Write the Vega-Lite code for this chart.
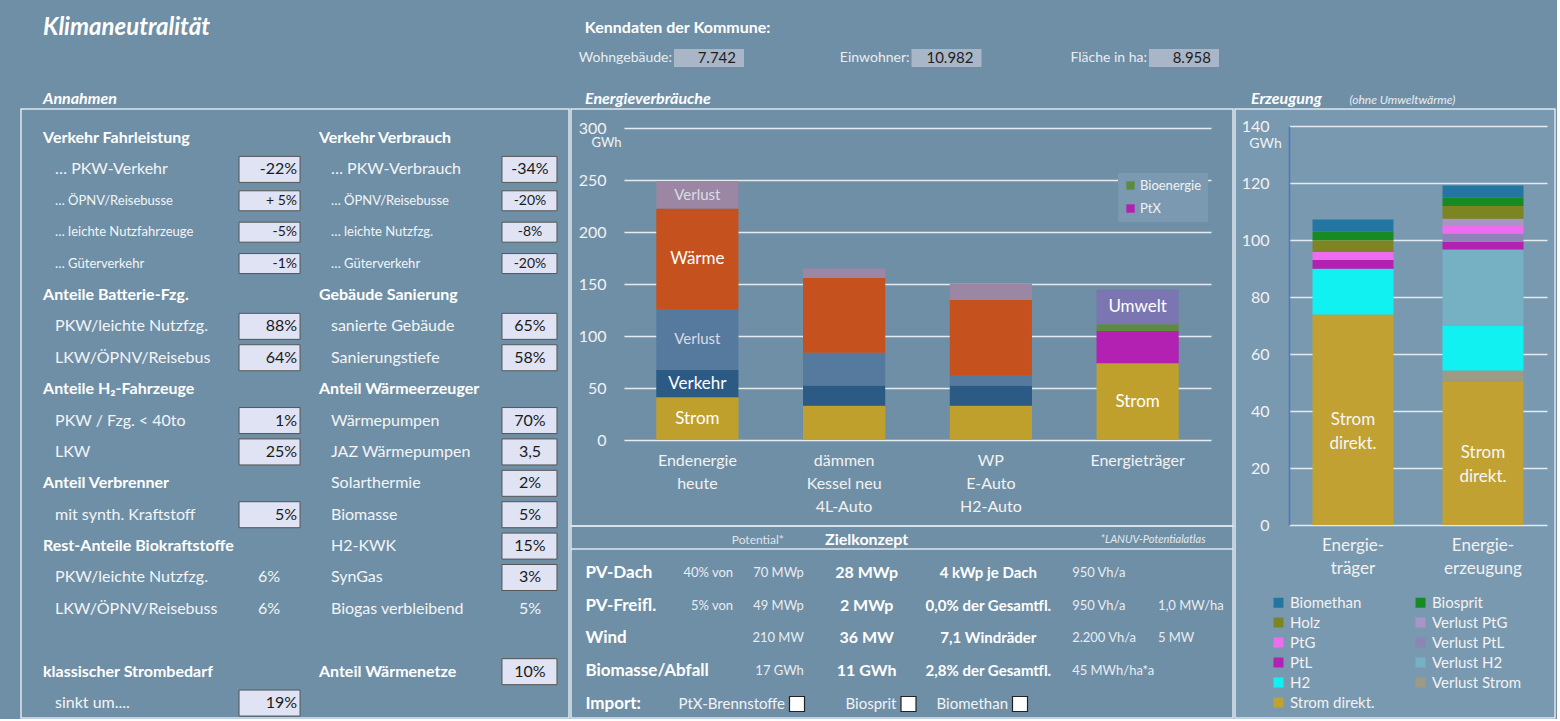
{
  "$schema": "https://vega.github.io/schema/vega-lite/v6.json",
  "background": "#6f8fa6",
  "padding": {"top": 16, "left": 20, "right": 0, "bottom": 0},
  "spacing": 18,
  "config": {
    "font": "Lato",
    "view": {"stroke": "#dfe7ee", "strokeWidth": 1.5},
    "title": {"color": "#ffffff", "font": "Lato", "fontStyle": "italic", "fontWeight": "bold", "anchor": "start", "fontSize": 16},
    "axis": {"labelFont": "Lato", "labelColor": "#f2f2f2", "domain": false, "ticks": false, "grid": false},
    "legend": {"labelFont": "Lato", "labelColor": "#f2f2f2"},
    "text": {"font": "Lato", "baseline": "middle"}
  },
  "vconcat": [
    {
      "spacing": 0,
      "bounds": "flush",
      "hconcat": [
        {
          "width": 565, "height": 28,
          "view": {"stroke": null},
          "title": {"text": "Klimaneutralität", "fontSize": 24, "dx": 22, "offset": 4},
          "data": {"values": []},
          "mark": "text",
          "encoding": {}
        },
        {
          "width": 971, "height": 28,
          "view": {"stroke": null},
          "title": {"text": "Kenndaten der Kommune:", "fontSize": 16, "fontStyle": "normal", "dx": 6, "offset": 8},
          "data": {"values": [
            {"item": "Wohngebäude:", "value": "7.742"},
            {"item": "Einwohner:", "value": "10.982"},
            {"item": "Fläche in ha:", "value": "8.958"}
          ]},
          "encoding": {
            "x": {"field": "item", "type": "nominal", "axis": null, "sort": null,
                  "scale": {"type": "point", "domain": ["Wohngebäude:", "Einwohner:", "Fläche in ha:"], "range": [90, 565], "padding": 0}}
          },
          "layer": [
            {"mark": {"type": "point", "shape": "M-7,-1.8H7V1.8H-7Z", "size": 100, "filled": true, "fill": "#a9b6c8", "opacity": 1, "xOffset": 33}},
            {"mark": {"type": "text", "align": "right", "dx": -4, "fontSize": 14, "color": "#e9edf1"}, "encoding": {"text": {"field": "item"}}},
            {"mark": {"type": "text", "align": "right", "dx": 60, "fontSize": 15, "color": "#1e1e1e"}, "encoding": {"text": {"field": "value"}}}
          ]
        }
      ]
    },
    {
      "spacing": -1,
      "resolve": {"scale": {"color": "independent"}, "legend": {"color": "independent"}},
      "hconcat": [
        {
          "width": 548, "height": 609,
          "title": {"text": "Annahmen", "dx": 22, "offset": 2},
          "data": {"values": [
            {"row": "r01", "side": "L", "kind": "heading", "label": "Verkehr Fahrleistung"},
            {"row": "r01", "side": "R", "kind": "heading", "label": "Verkehr Verbrauch"},
            {"row": "r02", "side": "L", "kind": "item", "label": "… PKW-Verkehr", "value": "-22%", "input": true},
            {"row": "r02", "side": "R", "kind": "item", "label": "… PKW-Verbrauch", "value": "-34%", "input": true},
            {"row": "r03", "side": "L", "kind": "item", "label": "… ÖPNV/Reisebusse", "value": "+ 5%", "input": true},
            {"row": "r03", "side": "R", "kind": "item", "label": "… ÖPNV/Reisebusse", "value": "-20%", "input": true},
            {"row": "r04", "side": "L", "kind": "item", "label": "… leichte Nutzfahrzeuge", "value": "-5%", "input": true},
            {"row": "r04", "side": "R", "kind": "item", "label": "… leichte Nutzfzg.", "value": "-8%", "input": true},
            {"row": "r05", "side": "L", "kind": "item", "label": "… Güterverkehr", "value": "-1%", "input": true},
            {"row": "r05", "side": "R", "kind": "item", "label": "… Güterverkehr", "value": "-20%", "input": true},
            {"row": "r06", "side": "L", "kind": "heading", "label": "Anteile Batterie-Fzg."},
            {"row": "r06", "side": "R", "kind": "heading", "label": "Gebäude Sanierung"},
            {"row": "r07", "side": "L", "kind": "item", "label": "PKW/leichte Nutzfzg.", "value": "88%", "input": true},
            {"row": "r07", "side": "R", "kind": "item", "label": "sanierte Gebäude", "value": "65%", "input": true},
            {"row": "r08", "side": "L", "kind": "item", "label": "LKW/ÖPNV/Reisebus", "value": "64%", "input": true},
            {"row": "r08", "side": "R", "kind": "item", "label": "Sanierungstiefe", "value": "58%", "input": true},
            {"row": "r09", "side": "L", "kind": "heading", "label": "Anteile H₂-Fahrzeuge"},
            {"row": "r09", "side": "R", "kind": "heading", "label": "Anteil Wärmeerzeuger"},
            {"row": "r10", "side": "L", "kind": "item", "label": "PKW / Fzg. < 40to", "value": "1%", "input": true},
            {"row": "r10", "side": "R", "kind": "item", "label": "Wärmepumpen", "value": "70%", "input": true},
            {"row": "r11", "side": "L", "kind": "item", "label": "LKW", "value": "25%", "input": true},
            {"row": "r11", "side": "R", "kind": "item", "label": "JAZ Wärmepumpen", "value": "3,5", "input": true},
            {"row": "r12", "side": "L", "kind": "heading", "label": "Anteil Verbrenner"},
            {"row": "r12", "side": "R", "kind": "item", "label": "Solarthermie", "value": "2%", "input": true},
            {"row": "r13", "side": "L", "kind": "item", "label": "mit synth. Kraftstoff", "value": "5%", "input": true},
            {"row": "r13", "side": "R", "kind": "item", "label": "Biomasse", "value": "5%", "input": true},
            {"row": "r14", "side": "L", "kind": "heading", "label": "Rest-Anteile Biokraftstoffe"},
            {"row": "r14", "side": "R", "kind": "item", "label": "H2-KWK", "value": "15%", "input": true},
            {"row": "r15", "side": "L", "kind": "item", "label": "PKW/leichte Nutzfzg.", "value": "6%", "input": false},
            {"row": "r15", "side": "R", "kind": "item", "label": "SynGas", "value": "3%", "input": true},
            {"row": "r16", "side": "L", "kind": "item", "label": "LKW/ÖPNV/Reisebuss", "value": "6%", "input": false},
            {"row": "r16", "side": "R", "kind": "item", "label": "Biogas verbleibend", "value": "5%", "input": false},
            {"row": "r17", "side": "L", "kind": "heading", "label": "klassischer Strombedarf"},
            {"row": "r17", "side": "R", "kind": "heading", "label": "Anteil Wärmenetze", "value": "10%", "input": true},
            {"row": "r18", "side": "L", "kind": "item", "label": "sinkt um....", "value": "19%", "input": true}
          ]},
          "encoding": {
            "x": {"field": "side", "type": "nominal", "axis": null,
                  "scale": {"type": "point", "domain": ["L", "R"], "padding": 0.493, "align": 0.081}},
            "y": {"field": "row", "type": "nominal", "axis": null,
                  "scale": {"type": "point", "domain": ["r01","r02","r03","r04","r05","r06","r07","r08","r09","r10","r11","r12","r13","r14","r15","r16","gap","r17","r18"], "padding": 0.7, "align": 0.66}}
          },
          "layer": [
            {
              "transform": [{"filter": "datum.kind == 'heading'"}],
              "mark": {"type": "text", "align": "left", "fontSize": 16, "fontWeight": "bold", "color": "#ffffff"},
              "encoding": {"text": {"field": "label"}}
            },
            {
              "transform": [{"filter": "datum.kind == 'item'"}],
              "mark": {"type": "text", "align": "left", "dx": 12, "color": "#f3f5f7"},
              "encoding": {
                "text": {"field": "label"},
                "size": {"condition": {"test": "indexof(['r03','r04','r05'], datum.row) >= 0", "value": 13}, "value": 16}
              }
            },
            {
              "transform": [{"filter": "datum.side == 'L' && datum.input"}],
              "mark": {"type": "point", "filled": true, "fill": "#dfe3f4", "stroke": "#555555", "strokeWidth": 1, "opacity": 1, "size": 100, "xOffset": 226.5},
              "encoding": {
                "shape": {"condition": {"test": "indexof(['r03','r04','r05'], datum.row) >= 0", "value": "M-6.1,-2H6.1V2H-6.1Z"}, "value": "M-6.1,-2.6H6.1V2.6H-6.1Z"}
              }
            },
            {
              "transform": [{"filter": "datum.side == 'R' && datum.input"}],
              "mark": {"type": "point", "filled": true, "fill": "#dfe3f4", "stroke": "#555555", "strokeWidth": 1, "opacity": 1, "size": 100, "xOffset": 210.5},
              "encoding": {
                "shape": {"condition": {"test": "indexof(['r03','r04','r05'], datum.row) >= 0", "value": "M-5.5,-2H5.5V2H-5.5Z"}, "value": "M-5.5,-2.6H5.5V2.6H-5.5Z"}
              }
            },
            {
              "transform": [{"filter": "datum.side == 'L' && datum.input"}],
              "mark": {"type": "text", "align": "right", "dx": 254, "color": "#1a1a1a"},
              "encoding": {
                "text": {"field": "value"},
                "size": {"condition": {"test": "indexof(['r03','r04','r05'], datum.row) >= 0", "value": 14}, "value": 16}
              }
            },
            {
              "transform": [{"filter": "datum.side == 'L' && isValid(datum.value) && !datum.input"}],
              "mark": {"type": "text", "align": "center", "dx": 226, "fontSize": 16, "color": "#f3f5f7"},
              "encoding": {"text": {"field": "value"}}
            },
            {
              "transform": [{"filter": "datum.side == 'R' && isValid(datum.value)"}],
              "mark": {"type": "text", "align": "center", "dx": 211},
              "encoding": {
                "text": {"field": "value"},
                "color": {"condition": {"test": "datum.input", "value": "#1a1a1a"}, "value": "#f3f5f7"},
                "size": {"condition": {"test": "indexof(['r03','r04','r05'], datum.row) >= 0", "value": 14}, "value": 16}
              }
            }
          ]
        },
        {
          "spacing": 0,
          "bounds": "flush",
          "vconcat": [
            {
              "width": 662, "height": 417,
              "title": {"text": "Energieverbräuche", "dx": 14, "offset": 2},
              "data": {"values": [
                {"scenario": "Endenergie|heute", "category": "Strom", "value": 41.2, "rank": 1, "label": "Strom"},
                {"scenario": "Endenergie|heute", "category": "Verkehr", "value": 26.2, "rank": 2, "label": "Verkehr"},
                {"scenario": "Endenergie|heute", "category": "Verlust Verkehr", "value": 58.6, "rank": 3, "label": "Verlust"},
                {"scenario": "Endenergie|heute", "category": "Wärme", "value": 96.7, "rank": 4, "label": "Wärme"},
                {"scenario": "Endenergie|heute", "category": "Verlust Wärme", "value": 26.3, "rank": 5, "label": "Verlust"},
                {"scenario": "dämmen|Kessel neu|4L-Auto", "category": "Strom", "value": 32.9, "rank": 1, "label": ""},
                {"scenario": "dämmen|Kessel neu|4L-Auto", "category": "Verkehr", "value": 19.6, "rank": 2, "label": ""},
                {"scenario": "dämmen|Kessel neu|4L-Auto", "category": "Verlust Verkehr", "value": 31.3, "rank": 3, "label": ""},
                {"scenario": "dämmen|Kessel neu|4L-Auto", "category": "Wärme", "value": 71.9, "rank": 4, "label": ""},
                {"scenario": "dämmen|Kessel neu|4L-Auto", "category": "Verlust Wärme", "value": 9.3, "rank": 5, "label": ""},
                {"scenario": "WP|E-Auto|H2-Auto", "category": "Strom", "value": 32.9, "rank": 1, "label": ""},
                {"scenario": "WP|E-Auto|H2-Auto", "category": "Verkehr", "value": 19.6, "rank": 2, "label": ""},
                {"scenario": "WP|E-Auto|H2-Auto", "category": "Verlust Verkehr", "value": 10.0, "rank": 3, "label": ""},
                {"scenario": "WP|E-Auto|H2-Auto", "category": "Wärme", "value": 72.2, "rank": 4, "label": ""},
                {"scenario": "WP|E-Auto|H2-Auto", "category": "Verlust Wärme", "value": 15.8, "rank": 5, "label": ""},
                {"scenario": "Energieträger", "category": "Strom", "value": 73.8, "rank": 1, "label": "Strom"},
                {"scenario": "Energieträger", "category": "PtX", "value": 30.9, "rank": 2, "label": ""},
                {"scenario": "Energieträger", "category": "Bioenergie", "value": 6.5, "rank": 3, "label": ""},
                {"scenario": "Energieträger", "category": "Umwelt", "value": 33.5, "rank": 4, "label": "Umwelt"}
              ]},
              "layer": [
                {
                  "mark": {"type": "bar"},
                  "encoding": {
                    "x": {"field": "scenario", "type": "nominal", "sort": null,
                          "scale": {"domain": ["Endenergie|heute", "dämmen|Kessel neu|4L-Auto", "WP|E-Auto|H2-Auto", "Energieträger"], "range": [53, 640], "paddingInner": 0.44, "paddingOuter": 0.22},
                          "axis": {"orient": "bottom", "offset": -86, "labelExpr": "split(datum.label, '|')", "labelAngle": 0, "labelFontSize": 16, "labelLineHeight": 23, "labelPadding": 12, "labelBaseline": "top", "title": null}},
                    "y": {"field": "value", "type": "quantitative", "stack": "zero",
                          "scale": {"domain": [0, 300], "range": [331, 19], "nice": false, "zero": false},
                          "axis": {"offset": -37, "values": [0, 50, 100, 150, 200, 250, 300], "grid": true, "gridColor": "#e3eaf0", "gridWidth": 1.5, "labelPadding": 2, "labelFontSize": 16,
                                   "title": "GWh", "titleAngle": 0, "titleX": -2, "titleY": 33, "titleAlign": "center", "titleBaseline": "middle", "titleFontSize": 13, "titleFontWeight": "normal", "titleColor": "#f2f2f2", "titleFont": "Lato"}},
                    "order": {"field": "rank", "type": "quantitative"},
                    "color": {"field": "category", "type": "nominal",
                              "scale": {"domain": ["Strom", "Verkehr", "Verlust Verkehr", "Wärme", "Verlust Wärme", "PtX", "Bioenergie", "Umwelt"],
                                        "range": ["#c0a02c", "#2b5a84", "#56799e", "#c5511e", "#9b87a3", "#b321b3", "#5c8b40", "#7b76b1"]},
                              "legend": {"values": ["Bioenergie", "PtX"], "orient": "none", "legendX": 547, "legendY": 64, "title": null, "fillColor": "#7b9ab2", "padding": 6, "symbolType": "square", "symbolSize": 70, "symbolStrokeWidth": 0, "labelFontSize": 13, "rowPadding": 9, "labelOffset": 3}}
                  }
                },
                {
                  "mark": {"type": "text"},
                  "encoding": {
                    "x": {"field": "scenario", "type": "nominal", "sort": null,
                          "scale": {"domain": ["Endenergie|heute", "dämmen|Kessel neu|4L-Auto", "WP|E-Auto|H2-Auto", "Energieträger"], "range": [53, 640], "paddingInner": 0.44, "paddingOuter": 0.22},
                          "axis": {"orient": "bottom", "offset": -86, "labelExpr": "split(datum.label, '|')", "labelAngle": 0, "labelFontSize": 16, "labelLineHeight": 23, "labelPadding": 12, "labelBaseline": "top", "title": null}},
                    "y": {"field": "value", "type": "quantitative", "stack": "zero", "bandPosition": 0.5,
                          "scale": {"domain": [0, 300], "range": [331, 19], "nice": false, "zero": false},
                          "axis": {"offset": -37, "values": [0, 50, 100, 150, 200, 250, 300], "grid": true, "gridColor": "#e3eaf0", "gridWidth": 1.5, "labelPadding": 2, "labelFontSize": 16,
                                   "title": "GWh", "titleAngle": 0, "titleX": -2, "titleY": 33, "titleAlign": "center", "titleBaseline": "middle", "titleFontSize": 13, "titleFontWeight": "normal", "titleColor": "#f2f2f2", "titleFont": "Lato"}},
                    "order": {"field": "rank", "type": "quantitative"},
                    "detail": {"field": "category", "type": "nominal"},
                    "text": {"field": "label"},
                    "color": {"condition": {"test": "datum.label == 'Verlust'", "value": "#d9dde5"}, "value": "#ffffff"},
                    "size": {"condition": {"test": "datum.label == 'Verlust'", "value": 15}, "value": 17}
                  }
                }
              ]
            },
            {
              "width": 662, "height": 192,
              "data": {"values": [
                {"row": "hdr", "col": "Potential", "text": "Potential*"},
                {"row": "hdr", "col": "Ziel", "text": "Zielkonzept"},
                {"row": "hdr", "col": "Quelle", "text": "*LANUV-Potentialatlas"},
                {"row": "PV-Dach", "col": "Name", "text": "PV-Dach"},
                {"row": "PV-Dach", "col": "Anteil", "text": "40% von"},
                {"row": "PV-Dach", "col": "Potential", "text": "70 MWp"},
                {"row": "PV-Dach", "col": "Ziel", "text": "28 MWp"},
                {"row": "PV-Dach", "col": "Einheit", "text": "4 kWp je Dach"},
                {"row": "PV-Dach", "col": "Volllast", "text": "950 Vh/a"},
                {"row": "PV-Freifl.", "col": "Name", "text": "PV-Freifl."},
                {"row": "PV-Freifl.", "col": "Anteil", "text": "5% von"},
                {"row": "PV-Freifl.", "col": "Potential", "text": "49 MWp"},
                {"row": "PV-Freifl.", "col": "Ziel", "text": "2 MWp"},
                {"row": "PV-Freifl.", "col": "Einheit", "text": "0,0% der Gesamtfl."},
                {"row": "PV-Freifl.", "col": "Volllast", "text": "950 Vh/a"},
                {"row": "PV-Freifl.", "col": "Leistung", "text": "1,0 MW/ha"},
                {"row": "Wind", "col": "Name", "text": "Wind"},
                {"row": "Wind", "col": "Potential", "text": "210 MW"},
                {"row": "Wind", "col": "Ziel", "text": "36 MW"},
                {"row": "Wind", "col": "Einheit", "text": "7,1 Windräder"},
                {"row": "Wind", "col": "Volllast", "text": "2.200 Vh/a"},
                {"row": "Wind", "col": "Leistung", "text": "5 MW"},
                {"row": "Biomasse/Abfall", "col": "Name", "text": "Biomasse/Abfall"},
                {"row": "Biomasse/Abfall", "col": "Potential", "text": "17 GWh"},
                {"row": "Biomasse/Abfall", "col": "Ziel", "text": "11 GWh"},
                {"row": "Biomasse/Abfall", "col": "Einheit", "text": "2,8% der Gesamtfl."},
                {"row": "Biomasse/Abfall", "col": "Volllast", "text": "45 MWh/ha*a"},
                {"row": "Import", "col": "Name", "text": "Import:"},
                {"row": "Import", "col": "Option", "text": "PtX-Brennstoffe", "selected": false},
                {"row": "Import", "col": "Option", "text": "Biosprit", "selected": false},
                {"row": "Import", "col": "Option", "text": "Biomethan", "selected": false}
              ]},
              "resolve": {"scale": {"x": "independent"}},
              "layer": [
                {
                  "data": {"values": [{"row": "hdr"}]},
                  "mark": {"type": "rule", "color": "#dfe7ee", "strokeWidth": 1.5, "yOffset": 9},
                  "encoding": {
                    "y": {"field": "row", "type": "nominal", "axis": null, "scale": {"type": "point", "domain": ["hdr", "PV-Dach", "PV-Freifl.", "Wind", "Biomasse/Abfall", "Import"], "padding": 0.427}}
                  }
                },
                {
                  "transform": [{"filter": "datum.col == 'Name'"}],
                  "mark": {"type": "text", "align": "left", "dx": -27, "fontSize": 17, "fontWeight": "bold", "color": "#ffffff"},
                  "encoding": {
                    "x": {"field": "col", "type": "nominal", "axis": null, "scale": {"type": "point", "domain": ["Name", "Anteil", "Potential", "Ziel", "Einheit", "Volllast", "Leistung", "Quelle"], "padding": 0.5}},
                    "y": {"field": "row", "type": "nominal", "axis": null, "scale": {"type": "point", "domain": ["hdr", "PV-Dach", "PV-Freifl.", "Wind", "Biomasse/Abfall", "Import"], "padding": 0.427}},
                    "text": {"field": "text"}
                  }
                },
                {
                  "transform": [{"filter": "datum.col == 'Anteil'"}],
                  "mark": {"type": "text", "align": "right", "dx": 38, "fontSize": 13, "color": "#e8edf2"},
                  "encoding": {
                    "x": {"field": "col", "type": "nominal", "axis": null, "scale": {"type": "point", "domain": ["Name", "Anteil", "Potential", "Ziel", "Einheit", "Volllast", "Leistung", "Quelle"], "padding": 0.5}},
                    "y": {"field": "row", "type": "nominal", "axis": null, "scale": {"type": "point", "domain": ["hdr", "PV-Dach", "PV-Freifl.", "Wind", "Biomasse/Abfall", "Import"], "padding": 0.427}},
                    "text": {"field": "text"}
                  }
                },
                {
                  "transform": [{"filter": "datum.col == 'Potential' && datum.row != 'hdr'"}],
                  "mark": {"type": "text", "align": "right", "dx": 26, "fontSize": 13, "color": "#e8edf2"},
                  "encoding": {
                    "x": {"field": "col", "type": "nominal", "axis": null, "scale": {"type": "point", "domain": ["Name", "Anteil", "Potential", "Ziel", "Einheit", "Volllast", "Leistung", "Quelle"], "padding": 0.5}},
                    "y": {"field": "row", "type": "nominal", "axis": null, "scale": {"type": "point", "domain": ["hdr", "PV-Dach", "PV-Freifl.", "Wind", "Biomasse/Abfall", "Import"], "padding": 0.427}},
                    "text": {"field": "text"}
                  }
                },
                {
                  "transform": [{"filter": "datum.col == 'Potential' && datum.row == 'hdr'"}],
                  "mark": {"type": "text", "align": "right", "dx": 6, "fontSize": 12, "color": "#dfe5ea"},
                  "encoding": {
                    "x": {"field": "col", "type": "nominal", "axis": null, "scale": {"type": "point", "domain": ["Name", "Anteil", "Potential", "Ziel", "Einheit", "Volllast", "Leistung", "Quelle"], "padding": 0.5}},
                    "y": {"field": "row", "type": "nominal", "axis": null, "scale": {"type": "point", "domain": ["hdr", "PV-Dach", "PV-Freifl.", "Wind", "Biomasse/Abfall", "Import"], "padding": 0.427}},
                    "text": {"field": "text"}
                  }
                },
                {
                  "transform": [{"filter": "datum.col == 'Ziel'"}],
                  "mark": {"type": "text", "align": "center", "dx": 6, "fontSize": 16, "fontWeight": "bold", "color": "#ffffff"},
                  "encoding": {
                    "x": {"field": "col", "type": "nominal", "axis": null, "scale": {"type": "point", "domain": ["Name", "Anteil", "Potential", "Ziel", "Einheit", "Volllast", "Leistung", "Quelle"], "padding": 0.5}},
                    "y": {"field": "row", "type": "nominal", "axis": null, "scale": {"type": "point", "domain": ["hdr", "PV-Dach", "PV-Freifl.", "Wind", "Biomasse/Abfall", "Import"], "padding": 0.427}},
                    "text": {"field": "text"}
                  }
                },
                {
                  "transform": [{"filter": "datum.col == 'Einheit'"}],
                  "mark": {"type": "text", "align": "center", "dx": 45, "fontSize": 15, "fontWeight": "bold", "color": "#ffffff"},
                  "encoding": {
                    "x": {"field": "col", "type": "nominal", "axis": null, "scale": {"type": "point", "domain": ["Name", "Anteil", "Potential", "Ziel", "Einheit", "Volllast", "Leistung", "Quelle"], "padding": 0.5}},
                    "y": {"field": "row", "type": "nominal", "axis": null, "scale": {"type": "point", "domain": ["hdr", "PV-Dach", "PV-Freifl.", "Wind", "Biomasse/Abfall", "Import"], "padding": 0.427}},
                    "text": {"field": "text"}
                  }
                },
                {
                  "transform": [{"filter": "datum.col == 'Volllast'"}],
                  "mark": {"type": "text", "align": "left", "dx": 46, "fontSize": 13, "color": "#e8edf2"},
                  "encoding": {
                    "x": {"field": "col", "type": "nominal", "axis": null, "scale": {"type": "point", "domain": ["Name", "Anteil", "Potential", "Ziel", "Einheit", "Volllast", "Leistung", "Quelle"], "padding": 0.5}},
                    "y": {"field": "row", "type": "nominal", "axis": null, "scale": {"type": "point", "domain": ["hdr", "PV-Dach", "PV-Freifl.", "Wind", "Biomasse/Abfall", "Import"], "padding": 0.427}},
                    "text": {"field": "text"}
                  }
                },
                {
                  "transform": [{"filter": "datum.col == 'Leistung'"}],
                  "mark": {"type": "text", "align": "left", "dx": 49, "fontSize": 13, "color": "#e8edf2"},
                  "encoding": {
                    "x": {"field": "col", "type": "nominal", "axis": null, "scale": {"type": "point", "domain": ["Name", "Anteil", "Potential", "Ziel", "Einheit", "Volllast", "Leistung", "Quelle"], "padding": 0.5}},
                    "y": {"field": "row", "type": "nominal", "axis": null, "scale": {"type": "point", "domain": ["hdr", "PV-Dach", "PV-Freifl.", "Wind", "Biomasse/Abfall", "Import"], "padding": 0.427}},
                    "text": {"field": "text"}
                  }
                },
                {
                  "transform": [{"filter": "datum.col == 'Quelle'"}],
                  "mark": {"type": "text", "align": "right", "dx": 14, "fontSize": 11, "fontStyle": "italic", "color": "#e3e8ee"},
                  "encoding": {
                    "x": {"field": "col", "type": "nominal", "axis": null, "scale": {"type": "point", "domain": ["Name", "Anteil", "Potential", "Ziel", "Einheit", "Volllast", "Leistung", "Quelle"], "padding": 0.5}},
                    "y": {"field": "row", "type": "nominal", "axis": null, "scale": {"type": "point", "domain": ["hdr", "PV-Dach", "PV-Freifl.", "Wind", "Biomasse/Abfall", "Import"], "padding": 0.427}},
                    "text": {"field": "text"}
                  }
                },
                {
                  "transform": [{"filter": "datum.col == 'Option'"}],
                  "mark": {"type": "text", "align": "right", "dx": -12, "fontSize": 15, "color": "#f0f3f6"},
                  "encoding": {
                    "x": {"field": "text", "type": "nominal", "axis": null, "scale": {"type": "point", "domain": ["PtX-Brennstoffe", "Biosprit", "Biomethan"], "range": [226, 449], "padding": 0}},
                    "y": {"field": "row", "type": "nominal", "axis": null, "scale": {"type": "point", "domain": ["hdr", "PV-Dach", "PV-Freifl.", "Wind", "Biomasse/Abfall", "Import"], "padding": 0.427}},
                    "text": {"field": "text"}
                  }
                },
                {
                  "transform": [{"filter": "datum.col == 'Option'"}],
                  "mark": {"type": "point", "shape": "M-1,-1H1V1H-1Z", "size": 225, "filled": true, "fill": "#ffffff", "stroke": "#222222", "strokeWidth": 1.2, "opacity": 1},
                  "encoding": {
                    "x": {"field": "text", "type": "nominal", "axis": null, "scale": {"type": "point", "domain": ["PtX-Brennstoffe", "Biosprit", "Biomethan"], "range": [226, 449], "padding": 0}},
                    "y": {"field": "row", "type": "nominal", "axis": null, "scale": {"type": "point", "domain": ["hdr", "PV-Dach", "PV-Freifl.", "Wind", "Biomasse/Abfall", "Import"], "padding": 0.427}}
                  }
                }
              ]
            }
          ]
        },
        {
          "width": 320, "height": 609,
          "view": {"fill": "#7999b1"},
          "title": {"text": "Erzeugung", "dx": 16, "offset": -14},
          "data": {"values": [
            {"source": "Energie-|träger", "category": "Strom direkt.", "value": 73.9, "rank": 1, "label": "Strom|direkt."},
            {"source": "Energie-|träger", "category": "H2", "value": 16.0, "rank": 3, "label": ""},
            {"source": "Energie-|träger", "category": "PtL", "value": 3.1, "rank": 5, "label": ""},
            {"source": "Energie-|träger", "category": "PtG", "value": 2.8, "rank": 7, "label": ""},
            {"source": "Energie-|träger", "category": "Holz", "value": 4.1, "rank": 9, "label": ""},
            {"source": "Energie-|träger", "category": "Biosprit", "value": 3.1, "rank": 10, "label": ""},
            {"source": "Energie-|träger", "category": "Biomethan", "value": 4.2, "rank": 11, "label": ""},
            {"source": "Energie-|erzeugung", "category": "Strom direkt.", "value": 50.4, "rank": 1, "label": "Strom|direkt."},
            {"source": "Energie-|erzeugung", "category": "Verlust Strom", "value": 3.8, "rank": 2, "label": ""},
            {"source": "Energie-|erzeugung", "category": "H2", "value": 15.8, "rank": 3, "label": ""},
            {"source": "Energie-|erzeugung", "category": "Verlust H2", "value": 26.7, "rank": 4, "label": ""},
            {"source": "Energie-|erzeugung", "category": "PtL", "value": 2.7, "rank": 5, "label": ""},
            {"source": "Energie-|erzeugung", "category": "Verlust PtL", "value": 2.8, "rank": 6, "label": ""},
            {"source": "Energie-|erzeugung", "category": "PtG", "value": 2.7, "rank": 7, "label": ""},
            {"source": "Energie-|erzeugung", "category": "Verlust PtG", "value": 2.6, "rank": 8, "label": ""},
            {"source": "Energie-|erzeugung", "category": "Holz", "value": 4.4, "rank": 9, "label": ""},
            {"source": "Energie-|erzeugung", "category": "Biosprit", "value": 2.9, "rank": 10, "label": ""},
            {"source": "Energie-|erzeugung", "category": "Biomethan", "value": 4.3, "rank": 11, "label": ""}
          ]},
          "layer": [
            {
              "mark": {"type": "bar"},
              "encoding": {
                "x": {"field": "source", "type": "nominal", "sort": null,
                      "scale": {"domain": ["Energie-|träger", "Energie-|erzeugung"], "range": [54, 312], "paddingInner": 0.377, "paddingOuter": 0.181},
                      "axis": {"orient": "bottom", "offset": -193, "labelExpr": "split(datum.label, '|')", "labelAngle": 0, "labelFontSize": 17, "labelLineHeight": 23, "labelPadding": 12, "labelBaseline": "top",
                               "title": "(ohne Umweltwärme)", "titleX": 114, "titleY": -426, "titleAlign": "left", "titleBaseline": "middle", "titleAngle": 0, "titleFont": "Lato", "titleFontStyle": "italic", "titleFontSize": 12, "titleFontWeight": "normal", "titleColor": "#e8eef3"}},
                "y": {"field": "value", "type": "quantitative", "stack": "zero",
                      "scale": {"domain": [0, 140], "range": [416, 17], "nice": false, "zero": false},
                      "axis": {"offset": -54, "values": [0, 20, 40, 60, 80, 100, 120, 140], "grid": true, "gridColor": "#e3eaf0", "gridWidth": 1.5, "domain": true, "domainColor": "#4a76c8", "domainWidth": 1.5,
                               "labelPadding": 20, "labelFontSize": 16,
                               "title": "GWh", "titleAngle": 0, "titleX": -24, "titleY": 34, "titleAlign": "center", "titleBaseline": "middle", "titleFontSize": 14, "titleFontWeight": "normal", "titleColor": "#f2f2f2", "titleFont": "Lato"}},
                "order": {"field": "rank", "type": "quantitative"},
                "color": {"field": "category", "type": "nominal",
                          "scale": {"domain": ["Biomethan", "Holz", "PtG", "PtL", "H2", "Strom direkt.", "Biosprit", "Verlust PtG", "Verlust PtL", "Verlust H2", "Verlust Strom"],
                                    "range": ["#2476a2", "#7d8422", "#ee6cef", "#b321b3", "#12f1f1", "#c1a131", "#178a23", "#a994c6", "#8d85b5", "#76b0c3", "#9d9b84"]},
                          "legend": {"orient": "none", "legendX": 36, "legendY": 486, "columns": 2, "title": null, "symbolType": "square", "symbolSize": 100, "symbolStrokeWidth": 0, "labelFontSize": 15, "rowPadding": 4, "columnPadding": 38, "labelOffset": 4, "padding": 0}}
              }
            },
            {
              "mark": {"type": "text", "lineBreak": "|", "fontSize": 17, "lineHeight": 24, "color": "#f6f6f6"},
              "encoding": {
                "x": {"field": "source", "type": "nominal", "sort": null,
                      "scale": {"domain": ["Energie-|träger", "Energie-|erzeugung"], "range": [54, 312], "paddingInner": 0.377, "paddingOuter": 0.181},
                      "axis": {"orient": "bottom", "offset": -193, "labelExpr": "split(datum.label, '|')", "labelAngle": 0, "labelFontSize": 17, "labelLineHeight": 23, "labelPadding": 12, "labelBaseline": "top",
                               "title": "(ohne Umweltwärme)", "titleX": 114, "titleY": -426, "titleAlign": "left", "titleBaseline": "middle", "titleAngle": 0, "titleFont": "Lato", "titleFontStyle": "italic", "titleFontSize": 12, "titleFontWeight": "normal", "titleColor": "#e8eef3"}},
                "y": {"field": "value", "type": "quantitative", "stack": "zero", "bandPosition": 0.5,
                      "scale": {"domain": [0, 140], "range": [416, 17], "nice": false, "zero": false},
                      "axis": {"offset": -54, "values": [0, 20, 40, 60, 80, 100, 120, 140], "grid": true, "gridColor": "#e3eaf0", "gridWidth": 1.5, "domain": true, "domainColor": "#4a76c8", "domainWidth": 1.5,
                               "labelPadding": 20, "labelFontSize": 16,
                               "title": "GWh", "titleAngle": 0, "titleX": -24, "titleY": 34, "titleAlign": "center", "titleBaseline": "middle", "titleFontSize": 14, "titleFontWeight": "normal", "titleColor": "#f2f2f2", "titleFont": "Lato"}},
                "order": {"field": "rank", "type": "quantitative"},
                "detail": {"field": "category", "type": "nominal"},
                "text": {"field": "label"}
              }
            }
          ]
        }
      ]
    }
  ]
}
